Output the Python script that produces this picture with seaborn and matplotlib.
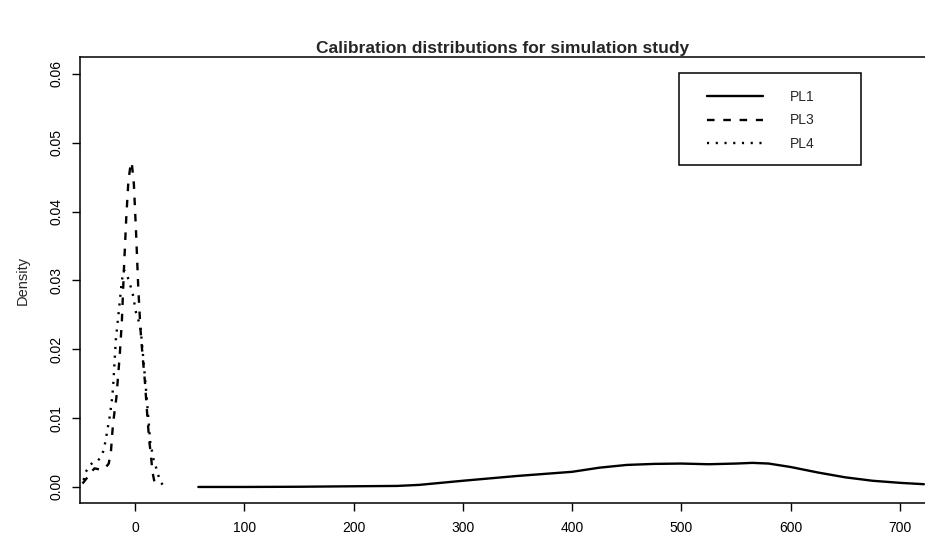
import numpy as np
import pandas as pd
import matplotlib
matplotlib.use("Agg")
import matplotlib.pyplot as plt
import seaborn as sns
from matplotlib.patches import Rectangle

# Kernel density estimates of the calibration parameters
pl1_x = [58, 100, 150, 200, 240, 260, 300, 350, 400, 425, 450, 475, 500,
         525, 550, 565, 580, 600, 625, 650, 675, 700, 722]
pl1_y = [0.0000, 0.0000, 0.00003, 0.0001, 0.00015, 0.0003, 0.0009, 0.0016,
         0.0022, 0.0028, 0.0032, 0.00335, 0.0034, 0.0033, 0.0034, 0.0035,
         0.0034, 0.0029, 0.0021, 0.0014, 0.0009, 0.0006, 0.0004]

pl3_x = [-48, -44, -40, -37, -34, -30, -27, -24, -22, -21, -20, -17, -14,
         -12, -10, -8, -6, -4, -3, -1, 1, 3, 5, 7, 9, 11, 13, 14.5, 16, 18, 19]
pl3_y = [0.0005, 0.0013, 0.0022, 0.0027, 0.0026, 0.0025, 0.0028, 0.0034,
         0.0051, 0.0073, 0.0093, 0.013, 0.019, 0.024, 0.032, 0.039, 0.0445,
         0.0468, 0.0472, 0.044, 0.037, 0.029, 0.023, 0.019, 0.0155, 0.011,
         0.0068, 0.0048, 0.0022, 0.0006, 0.0002]

pl4_x = [-47, -45, -41, -38, -34, -31, -29, -27, -25, -23, -21, -20, -17.5,
         -14.5, -12, -10, -8, -5.5, -2, 1, 5, 8, 11, 14, 17, 19, 23, 26, 29]
pl4_y = [0.001, 0.0022, 0.0032, 0.0036, 0.0038, 0.0044, 0.0052, 0.0066,
         0.0085, 0.0103, 0.0128, 0.0145, 0.0214, 0.026, 0.030, 0.0315, 0.031,
         0.030, 0.028, 0.0253, 0.0233, 0.018, 0.0125, 0.0065, 0.004, 0.003,
         0.0008, 0.0002, 0.0]

series = ["PL1", "PL3", "PL4"]
x_ticks = [0, 100, 200, 300, 400, 500, 600, 700]
y_ticks = [0.00, 0.01, 0.02, 0.03, 0.04, 0.05, 0.06]

df = pd.concat([
    pd.DataFrame({"x": pl1_x, "density": pl1_y, "series": "PL1"}),
    pd.DataFrame({"x": pl3_x, "density": pl3_y, "series": "PL3"}),
    pd.DataFrame({"x": pl4_x, "density": pl4_y, "series": "PL4"}),
], ignore_index=True)

sns.set_style("ticks")
plt.rcParams["font.family"] = ["Liberation Sans", "DejaVu Sans"]

W, H = 925, 542
fig = plt.figure(figsize=(W / 100, H / 100), dpi=100)
ax = fig.add_axes([80 / W, (H - 503) / H, (W - 80) / W, (503 - 57) / H])

line_styles = {"PL1": "", "PL3": (3.2, 3.7), "PL4": (0.9, 2.8)}
sns.lineplot(data=df, x="x", y="density", style="series", style_order=series,
             dashes=line_styles, color="black", linewidth=1.7,
             estimator=None, sort=True, ax=ax, legend="full")

ax.set_xlim(-50.3, 723)
ax.set_ylim(-0.00233, 0.06246)
ax.set_xticks(x_ticks)
ax.set_xticklabels([str(t) for t in x_ticks])
ax.set_yticks(y_ticks)
ax.set_yticklabels([f"{t:.2f}" for t in y_ticks], rotation=90, va="center")

ax.tick_params(axis="both", direction="out", length=6, width=1.0,
               labelsize=10, colors="black")
ax.tick_params(axis="x", pad=7)
ax.tick_params(axis="y", pad=6)

for side in ["left", "bottom", "top"]:
    ax.spines[side].set_visible(True)
    ax.spines[side].set_linewidth(1.1)
    ax.spines[side].set_color("black")
ax.spines["right"].set_visible(False)

ax.set_xlabel("")
ax.set_ylabel("Density", fontsize=10.5)
ax.yaxis.set_label_coords(-0.059, 0.5)

ax.set_title("Calibration distributions for simulation study",
             fontsize=12.5, fontweight="bold", pad=3)

# Legend: entries without a frame, box drawn separately
handles, labels = ax.get_legend_handles_labels()
pairs = [(h, l) for h, l in zip(handles, labels) if l in series]
leg = ax.legend([p[0] for p in pairs], [p[1] for p in pairs],
                loc="upper left", bbox_to_anchor=(707 / W, 1 - 90 / H),
                bbox_transform=fig.transFigure, frameon=False,
                fontsize=10, handlelength=4.0, handletextpad=2.0,
                labelspacing=0.68, borderpad=0, borderaxespad=0)
for h in leg.get_lines():
    h.set_linewidth(1.7)

fig.patches.append(Rectangle((679 / W, 1 - 165 / H), (861 - 679) / W,
                             (165 - 73) / H, transform=fig.transFigure,
                             fill=False, edgecolor="black", linewidth=1.1))

fig.savefig("out.png", dpi=100)
